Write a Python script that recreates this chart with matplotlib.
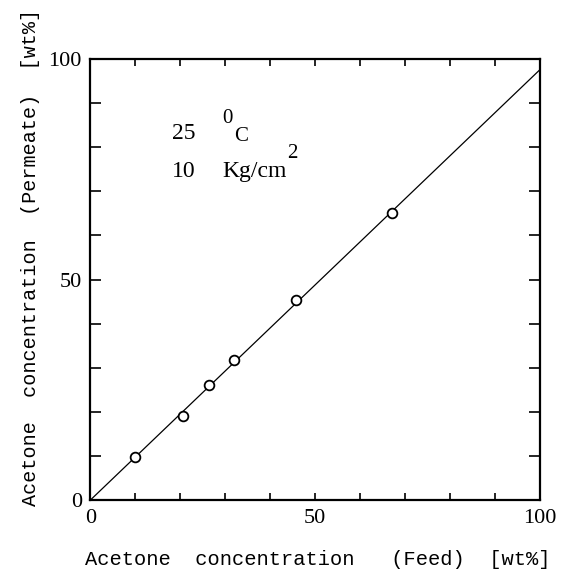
import numpy as np
import matplotlib
matplotlib.use('Agg')
import matplotlib.pyplot as plt

# data
feed = [10.0, 20.7, 26.5, 32.0, 45.8, 67.2]          # wt%
permeate = [9.7, 19.1, 26.2, 31.8, 45.4, 65.0]       # wt%
fit_x = [0, 100]
fit_y = [0, 97.5]

major_ticks = [0, 50, 100]
minor_ticks = np.arange(10, 100, 10)

serif = 'Liberation Serif'
mono = 'Liberation Mono'

fig = plt.figure(figsize=(5.64, 5.71), dpi=100)
ax = fig.add_axes([0.16, 0.124, 0.797, 0.773])

ax.plot(fit_x, fit_y, color='black', lw=0.9)
ax.plot(feed, permeate, 'o', mfc='white', mec='black', mew=1.3, ms=7)

ax.set_xlim(0, 100)
ax.set_ylim(0, 100)
ax.set_xticks(major_ticks)
ax.set_yticks(major_ticks)
ax.set_xticks(minor_ticks, minor=True)
ax.set_yticks(minor_ticks, minor=True)
ax.tick_params(which='both', direction='in', top=True, right=True, width=1.2,
               labelsize=16, pad=6)
ax.tick_params(axis='x', which='both', length=5)
ax.tick_params(axis='y', which='both', length=8)
for lab in ax.get_xticklabels() + ax.get_yticklabels():
    lab.set_fontfamily(serif)
for s in ax.spines.values():
    s.set_linewidth(1.6)

ax.set_xlabel('Acetone  concentration   (Feed)  [wt%]', fontfamily=mono,
              fontsize=14.7)
ax.set_ylabel('Acetone  concentration  (Permeate)  [wt%]', fontfamily=mono,
              fontsize=14.5)
ax.xaxis.set_label_coords(0.507, -0.112)
ax.yaxis.set_label_coords(-0.112, 0.551)

# conditions
ax.text(18.2, 83, '25', fontfamily=serif, fontsize=17, va='center')
ax.text(29.4, 86.5, '0', fontfamily=serif, fontsize=15, va='center')
ax.text(32.0, 82.5, 'C', fontfamily=serif, fontsize=15, va='center')
ax.text(18.2, 74.5, '10', fontfamily=serif, fontsize=17, va='center')
ax.text(29.4, 74.5, 'Kg/cm', fontfamily=serif, fontsize=17, va='center')
ax.text(43.8, 78.5, '2', fontfamily=serif, fontsize=15, va='center')

fig.savefig('out.png', dpi=100)
